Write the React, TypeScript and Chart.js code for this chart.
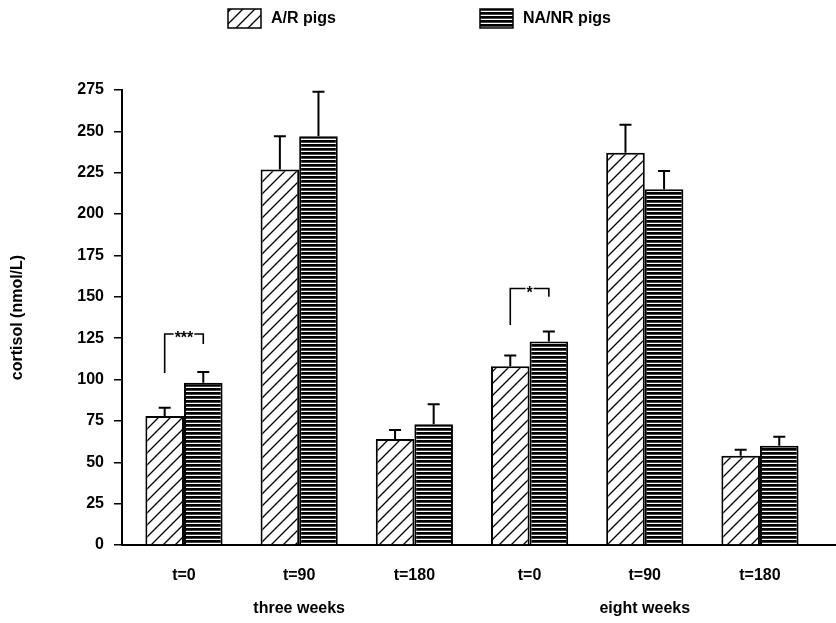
import { useEffect, useRef } from 'react';
import { Chart, registerables } from 'chart.js';

Chart.register(...registerables);

// ---- data ----
const groupIndex = [0, 1, 2, 3, 4, 5];
const timeLabels = ['t=0', 't=90', 't=180', 't=0', 't=90', 't=180'];
const periodLabels = ['', 'three weeks', '', '', 'eight weeks', ''];
const seriesNames = ['A/R pigs', 'NA/NR pigs'];
const arValues = [78, 227, 64, 108, 237, 54];
const arErrors = [5, 20, 5.5, 6.5, 17, 3.5];
const nanrValues = [98, 247, 73, 123, 215, 60];
const nanrErrors = [6.5, 27, 12, 6, 11, 5.5];
const yMin = 0;
const yMax = 275;
const yStep = 25;
const sigGroups = [0, 3];
const sigLabels = ['***', '*'];
const sigTop = [127.5, 155];
const sigLeftBottom = [104, 133];
const sigRightBottom = [121.5, 150];

const FONT_FAMILY = '"Liberation Sans", Arial, Helvetica, sans-serif';

function makeHatch(): CanvasPattern | string {
  const s = 12;
  const c = document.createElement('canvas');
  c.width = s;
  c.height = s;
  const g = c.getContext('2d');
  if (!g) return '#fff';
  g.fillStyle = '#fff';
  g.fillRect(0, 0, s, s);
  g.strokeStyle = '#000';
  g.lineWidth = 1.3;
  g.beginPath();
  g.moveTo(0, s);
  g.lineTo(s, 0);
  g.moveTo(-2, 2);
  g.lineTo(2, -2);
  g.moveTo(s - 2, s + 2);
  g.lineTo(s + 2, s - 2);
  g.stroke();
  return g.createPattern(c, 'repeat') || '#fff';
}

function makeStripes(): CanvasPattern | string {
  const c = document.createElement('canvas');
  c.width = 8;
  c.height = 4;
  const g = c.getContext('2d');
  if (!g) return '#333';
  g.fillStyle = '#fff';
  g.fillRect(0, 0, 8, 4);
  g.fillStyle = '#000';
  g.fillRect(0, 0, 8, 2);
  g.fillStyle = '#444';
  g.fillRect(0, 2, 8, 1);
  return g.createPattern(c, 'repeat') || '#333';
}

const overlayPlugin = {
  id: 'overlay',
  afterDatasetsDraw(chart: any) {
    const ctx: CanvasRenderingContext2D = chart.ctx;
    const y = chart.scales.y;
    const errs = [arErrors, nanrErrors];
    const vals = [arValues, nanrValues];
    ctx.save();
    ctx.strokeStyle = '#000';
    ctx.lineWidth = 2;
    // error bars
    for (let d = 0; d < 2; d++) {
      const meta = chart.getDatasetMeta(d);
      meta.data.forEach((bar: any, i: number) => {
        const top = y.getPixelForValue(vals[d][i] + errs[d][i]);
        ctx.beginPath();
        ctx.moveTo(bar.x, bar.y);
        ctx.lineTo(bar.x, top);
        ctx.moveTo(bar.x - 6, top);
        ctx.lineTo(bar.x + 6, top);
        ctx.stroke();
      });
    }
    // significance brackets
    ctx.lineWidth = 1.6;
    ctx.font = `bold 16px ${FONT_FAMILY}`;
    ctx.textAlign = 'center';
    ctx.textBaseline = 'middle';
    ctx.fillStyle = '#000';
    sigGroups.forEach((gi, k) => {
      const xl = chart.getDatasetMeta(0).data[gi].x;
      const xr = chart.getDatasetMeta(1).data[gi].x;
      const yt = y.getPixelForValue(sigTop[k]);
      const yl = y.getPixelForValue(sigLeftBottom[k]);
      const yr = y.getPixelForValue(sigRightBottom[k]);
      const cx = (xl + xr) / 2;
      const tw = ctx.measureText(sigLabels[k]).width;
      ctx.beginPath();
      ctx.moveTo(xl, yl);
      ctx.lineTo(xl, yt);
      ctx.lineTo(cx - tw / 2 - 1, yt);
      ctx.moveTo(cx + tw / 2 + 1, yt);
      ctx.lineTo(xr, yt);
      ctx.lineTo(xr, yr);
      ctx.stroke();
      ctx.fillText(sigLabels[k], cx, yt + 5);
    });
    ctx.restore();
  },
  afterDraw(chart: any) {
    const ctx: CanvasRenderingContext2D = chart.ctx;
    const boxX = [228, 480];
    ctx.save();
    ctx.font = `bold 16px ${FONT_FAMILY}`;
    ctx.textAlign = 'left';
    ctx.textBaseline = 'middle';
    chart.data.datasets.forEach((ds: any, i: number) => {
      const bx = boxX[i];
      ctx.fillStyle = ds.backgroundColor;
      ctx.fillRect(bx, 9, 33, 19);
      ctx.strokeStyle = '#000';
      ctx.lineWidth = 1.5;
      ctx.strokeRect(bx, 9, 33, 19);
      ctx.fillStyle = '#000';
      ctx.fillText(ds.label, bx + 43, 19);
    });
    ctx.restore();
  },
};

export default function App() {
  const ref = useRef<HTMLCanvasElement | null>(null);
  useEffect(() => {
    if (!ref.current) return;
    const hatch = makeHatch();
    const stripes = makeStripes();
    const chart = new Chart(ref.current, {
      type: 'bar',
      data: {
        datasets: [
          {
            label: seriesNames[0],
            data: groupIndex.map((x, i) => ({ x, y: arValues[i] })),
            backgroundColor: hatch as any,
            borderColor: '#000',
            borderWidth: 2,
            categoryPercentage: 0.67,
            barPercentage: 1,
          },
          {
            label: seriesNames[1],
            data: groupIndex.map((x, i) => ({ x, y: nanrValues[i] })),
            backgroundColor: stripes as any,
            borderColor: '#000',
            borderWidth: 2,
            categoryPercentage: 0.67,
            barPercentage: 1,
          },
        ],
      },
      options: {
        animation: false,
        responsive: false,
        layout: { padding: { top: 90, left: 0, right: 0, bottom: 0 } },
        plugins: { legend: { display: false }, tooltip: { enabled: false } },
        scales: {
          x: {
            type: 'linear',
            offset: false,
            min: -0.538,
            max: 5.66,
            afterBuildTicks: (s: any) => {
              s.ticks = groupIndex.map((v) => ({ value: v }));
            },
            afterFit: (s: any) => {
              s.height = 78;
            },
            grid: { display: false, drawTicks: false, offset: false },
            border: { display: true, color: '#000', width: 2 },
            ticks: {
              autoSkip: false,
              maxRotation: 0,
              padding: 14,
              color: '#000',
              font: { family: FONT_FAMILY, size: 16, weight: 'bold', lineHeight: '33px' },
              callback: (v: any) => {
                const i = Number(v);
                if (!Number.isInteger(i) || i < 0 || i >= timeLabels.length) return '';
                return periodLabels[i] ? [timeLabels[i], periodLabels[i]] : timeLabels[i];
              },
            },
          },
          y: {
            min: yMin,
            max: yMax,
            afterFit: (s: any) => {
              s.width = 122;
            },
            grid: { drawOnChartArea: false, drawTicks: true, tickLength: 8, color: '#000', lineWidth: 1.5 },
            border: { display: true, color: '#000', width: 2 },
            ticks: {
              stepSize: yStep,
              padding: 10,
              color: '#000',
              font: { family: FONT_FAMILY, size: 16, weight: 'bold' },
            },
            title: {
              display: true,
              text: 'cortisol (nmol/L)',
              color: '#000',
              padding: { top: 8, bottom: 0 },
              font: { family: FONT_FAMILY, size: 16, weight: 'bold' },
            },
          },
        },
      },
      plugins: [overlayPlugin],
    });
    return () => chart.destroy();
  }, []);
  return (
    <div style={{ position: 'fixed', left: 0, top: 0, width: 836, height: 623, background: '#fff' }}>
      <canvas ref={ref} width={836} height={623} />
    </div>
  );
}
